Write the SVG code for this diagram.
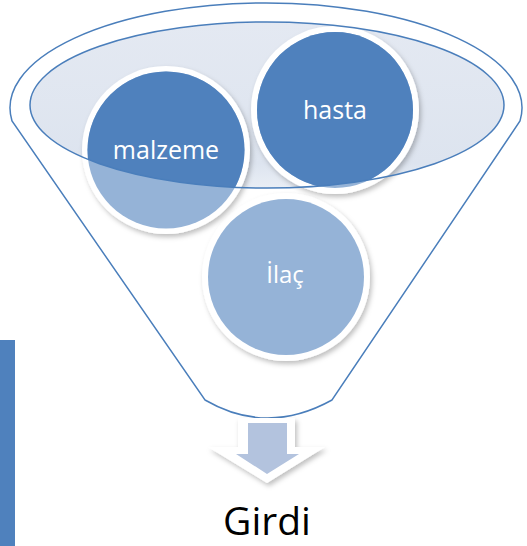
<svg xmlns="http://www.w3.org/2000/svg" width="527" height="546" viewBox="0 0 527 546">
<style>
.ring{fill:#ffffff;filter:url(#sh)}
.light{fill:#95b3d7}
.dark{fill:#4f81bd}
.lbl{font-family:"Open Sans","Liberation Sans",sans-serif;fill:#ffffff;text-anchor:middle}
.line{fill:none;stroke:#4a7ebb;stroke-width:1.5}
</style>
<defs>
<filter id="sh" x="-20%" y="-20%" width="150%" height="150%">
<feDropShadow dx="2" dy="3" stdDeviation="2.5" flood-color="#000" flood-opacity="0.25"/>
</filter>
<clipPath id="inner"><ellipse cx="267" cy="105" rx="237" ry="83"/></clipPath>
<linearGradient id="ig" x1="0" y1="0" x2="0" y2="1">
<stop offset="0" stop-color="#e4e9f2"/>
<stop offset="0.85" stop-color="#dde4ef"/>
<stop offset="1" stop-color="#e9eef5"/>
</linearGradient>
<linearGradient id="og" x1="0" y1="0" x2="0" y2="1">
<stop offset="0" stop-color="#ffffff"/>
<stop offset="0.08" stop-color="#eef2f8"/>
<stop offset="0.2" stop-color="#ffffff"/>
</linearGradient>
</defs>
<rect x="0" y="340" width="15" height="206" fill="#4f81bd"/>
<g id="funnel">
<path d="M12,121 A256,105 0 1 1 520,121 L332,400 Q267,436 205,400 Z" fill="url(#og)" class="line"/>
<ellipse cx="267" cy="105" rx="237" ry="83" fill="url(#ig)"/>
</g>
<g id="ilac">
<circle cx="286" cy="277" r="84" class="ring"/>
<circle cx="286" cy="277" r="78" class="light"/>
<text x="285" y="283" class="lbl" font-size="24">İlaç</text>
</g>
<g id="malzeme">
<circle cx="166" cy="150" r="84" class="ring"/>
<circle cx="166" cy="150" r="78.5" class="light"/>
<circle cx="166" cy="150" r="78.5" class="dark" clip-path="url(#inner)"/>
<text x="166" y="159" class="lbl" font-size="25">malzeme</text>
</g>
<g id="hasta">
<circle cx="335" cy="110" r="84" class="ring"/>
<circle cx="335" cy="110" r="78" class="light"/>
<circle cx="335" cy="110" r="78" class="dark" clip-path="url(#inner)"/>
<text x="335" y="119" class="lbl" font-size="25">hasta</text>
</g>
<g id="rim">
<ellipse cx="267" cy="105" rx="237" ry="83" class="line"/>
</g>
<g id="connectors">
<path d="M238,418 L295,418 L295,447 L325,447 L267,483 L208,447 L238,447 Z" fill="#ffffff" filter="url(#sh)"/>
<path d="M248,423 L287,423 L287,454 L299,454 L267,474 L236,454 L248,454 Z" fill="#b3c3de"/>
</g>
<g id="output">
<text x="267" y="535" font-family="Open Sans, Liberation Sans, sans-serif" font-size="39" fill="#000000" text-anchor="middle">Girdi</text>
</g>
</svg>
